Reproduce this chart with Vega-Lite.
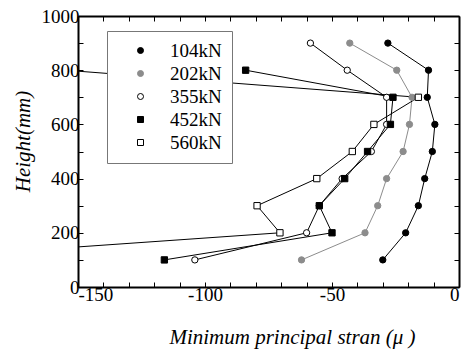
{
  "$schema": "https://vega.github.io/schema/vega-lite/v6.json",
  "width": 381,
  "height": 271,
  "autosize": {"type": "none"},
  "padding": {"left": 78, "top": 16, "right": 3, "bottom": 66},
  "background": "white",
  "config": {
    "view": {"stroke": null},
    "font": "Liberation Serif",
    "axis": {
      "domainColor": "black",
      "domainWidth": 2,
      "tickColor": "black",
      "tickWidth": 1,
      "tickSize": -5,
      "grid": false,
      "labelFont": "Liberation Serif",
      "labelFontSize": 19,
      "labelColor": "black",
      "titleFont": "Liberation Serif",
      "titleFontSize": 21,
      "titleFontStyle": "italic",
      "titleFontWeight": "normal",
      "titleColor": "black"
    }
  },
  "data": {
    "values": [
      {"load": "104kN", "h": 100, "s": -30},
      {"load": "104kN", "h": 200, "s": -21},
      {"load": "104kN", "h": 300, "s": -16},
      {"load": "104kN", "h": 400, "s": -13.5},
      {"load": "104kN", "h": 500, "s": -10.5},
      {"load": "104kN", "h": 600, "s": -9.5},
      {"load": "104kN", "h": 700, "s": -12.5},
      {"load": "104kN", "h": 800, "s": -12},
      {"load": "104kN", "h": 900, "s": -28},
      {"load": "202kN", "h": 100, "s": -62},
      {"load": "202kN", "h": 200, "s": -37},
      {"load": "202kN", "h": 300, "s": -32},
      {"load": "202kN", "h": 400, "s": -28.5},
      {"load": "202kN", "h": 500, "s": -22},
      {"load": "202kN", "h": 600, "s": -19.5},
      {"load": "202kN", "h": 700, "s": -18.5},
      {"load": "202kN", "h": 800, "s": -24.5},
      {"load": "202kN", "h": 900, "s": -43},
      {"load": "355kN", "h": 100, "s": -104},
      {"load": "355kN", "h": 200, "s": -60},
      {"load": "355kN", "h": 300, "s": -55},
      {"load": "355kN", "h": 400, "s": -46},
      {"load": "355kN", "h": 500, "s": -34.5},
      {"load": "355kN", "h": 600, "s": -28.5},
      {"load": "355kN", "h": 700, "s": -28.5},
      {"load": "355kN", "h": 800, "s": -44},
      {"load": "355kN", "h": 900, "s": -58.5},
      {"load": "452kN", "h": 100, "s": -116},
      {"load": "452kN", "h": 200, "s": -50},
      {"load": "452kN", "h": 300, "s": -55},
      {"load": "452kN", "h": 400, "s": -45},
      {"load": "452kN", "h": 500, "s": -36},
      {"load": "452kN", "h": 600, "s": -27},
      {"load": "452kN", "h": 700, "s": -26},
      {"load": "452kN", "h": 800, "s": -84},
      {"load": "560kN", "h": 100, "s": -223},
      {"load": "560kN", "h": 200, "s": -70.5},
      {"load": "560kN", "h": 300, "s": -79.5},
      {"load": "560kN", "h": 400, "s": -56},
      {"load": "560kN", "h": 500, "s": -42},
      {"load": "560kN", "h": 600, "s": -33.5},
      {"load": "560kN", "h": 700, "s": -16},
      {"load": "560kN", "h": 800, "s": -155}
    ]
  },
  "resolve": {"axis": {"x": "independent", "y": "independent"}},
  "layer": [
    {
      "mark": {"type": "line", "clip": true, "strokeWidth": 1},
      "encoding": {
        "x": {
          "field": "s", "type": "quantitative",
          "scale": {"domain": [-150, 0], "nice": false, "zero": false},
          "axis": {
            "values": [-150,-140,-130,-120,-110,-100,-90,-80,-70,-60,-50,-40,-30,-20,-10,0],
            "labelExpr": "datum.value % 50 == 0 ? '' + datum.value : ''",
            "labelPadding": 3,
            "title": "Minimum principal stran (μ )",
            "titleX": 214,
            "titleY": 50,
            "titleBaseline": "middle",
            "titleAlign": "center"
          }
        },
        "y": {
          "field": "h", "type": "quantitative",
          "scale": {"domain": [0, 1000], "nice": false},
          "axis": {
            "values": [0,100,200,300,400,500,600,700,800,900,1000],
            "labelExpr": "datum.value % 200 == 0 ? '' + datum.value : ''",
            "labelPadding": 4,
            "title": "Height(mm)",
            "titleX": -55,
            "titleY": 125,
            "titleBaseline": "middle",
            "titleAlign": "center"
          }
        },
        "stroke": {
          "field": "load", "type": "nominal",
          "scale": {"domain": ["104kN","202kN","355kN","452kN","560kN"], "range": ["black","#8c8c8c","black","black","black"]},
          "legend": {
            "title": null, "orient": "none", "legendX": 29, "legendY": 15, "padding": 10,
            "fillColor": "white", "strokeColor": "#777777",
            "labelFont": "Liberation Serif", "labelFontSize": 19, "labelColor": "black",
            "symbolOffset": 14, "labelOffset": 20, "rowPadding": 3, "symbolSize": 36,
            "encode": {"symbols": {"update": {
              "shape": {"signal": "indexof(['452kN','560kN'], datum.value) >= 0 ? 'M-7.6,0H-1M1,0H7.6M-1,-1H1V1H-1Z' : 'M-7.6,0H-1M1,0H7.6M-1,0A1,1 0 1,0 1,0A1,1 0 1,0 -1,0Z'"},
              "fill": {"scale": "fill", "field": "value"},
              "stroke": {"scale": "stroke", "field": "value"},
              "size": {"value": 36}, "strokeWidth": {"value": 1}, "opacity": {"value": 1}
            }}}
          }
        },
        "order": {"field": "h", "type": "quantitative"}
      }
    },
    {
      "mark": {"type": "point", "clip": true, "filled": true, "opacity": 1, "strokeWidth": 1, "size": 40},
      "encoding": {
        "x": {
          "field": "s", "type": "quantitative",
          "axis": {
            "orient": "top",
            "values": [-150,-140,-130,-120,-110,-100,-90,-80,-70,-60,-50,-40,-30,-20,-10,0],
            "labels": false,
            "title": null
          }
        },
        "y": {
          "field": "h", "type": "quantitative",
          "axis": {
            "orient": "right",
            "values": [0,100,200,300,400,500,600,700,800,900,1000],
            "labels": false,
            "title": null
          }
        },
        "stroke": {
          "field": "load", "type": "nominal",
          "legend": {
            "title": null, "orient": "none", "legendX": 29, "legendY": 15, "padding": 10,
            "fillColor": "white", "strokeColor": "#777777",
            "labelFont": "Liberation Serif", "labelFontSize": 19, "labelColor": "black",
            "symbolOffset": 14, "labelOffset": 20, "rowPadding": 3, "symbolSize": 36,
            "encode": {"symbols": {"update": {
              "shape": {"signal": "indexof(['452kN','560kN'], datum.value) >= 0 ? 'M-7.6,0H-1M1,0H7.6M-1,-1H1V1H-1Z' : 'M-7.6,0H-1M1,0H7.6M-1,0A1,1 0 1,0 1,0A1,1 0 1,0 -1,0Z'"},
              "fill": {"scale": "fill", "field": "value"},
              "stroke": {"scale": "stroke", "field": "value"},
              "size": {"value": 36}, "strokeWidth": {"value": 1}, "opacity": {"value": 1}
            }}}
          }
        },
        "fill": {
          "field": "load", "type": "nominal",
          "scale": {"domain": ["104kN","202kN","355kN","452kN","560kN"], "range": ["black","#8c8c8c","white","black","white"]},
          "legend": {
            "title": null, "orient": "none", "legendX": 29, "legendY": 15, "padding": 10,
            "fillColor": "white", "strokeColor": "#777777",
            "labelFont": "Liberation Serif", "labelFontSize": 19, "labelColor": "black",
            "symbolOffset": 14, "labelOffset": 20, "rowPadding": 3, "symbolSize": 36,
            "encode": {"symbols": {"update": {
              "shape": {"signal": "indexof(['452kN','560kN'], datum.value) >= 0 ? 'M-7.6,0H-1M1,0H7.6M-1,-1H1V1H-1Z' : 'M-7.6,0H-1M1,0H7.6M-1,0A1,1 0 1,0 1,0A1,1 0 1,0 -1,0Z'"},
              "fill": {"scale": "fill", "field": "value"},
              "stroke": {"scale": "stroke", "field": "value"},
              "size": {"value": 36}, "strokeWidth": {"value": 1}, "opacity": {"value": 1}
            }}}
          }
        },
        "shape": {
          "field": "load", "type": "nominal",
          "scale": {"domain": ["104kN","202kN","355kN","452kN","560kN"], "range": ["circle","circle","circle","square","square"]},
          "legend": {
            "title": null, "orient": "none", "legendX": 29, "legendY": 15, "padding": 10,
            "fillColor": "white", "strokeColor": "#777777",
            "labelFont": "Liberation Serif", "labelFontSize": 19, "labelColor": "black",
            "symbolOffset": 14, "labelOffset": 20, "rowPadding": 3, "symbolSize": 36,
            "encode": {"symbols": {"update": {
              "shape": {"signal": "indexof(['452kN','560kN'], datum.value) >= 0 ? 'M-7.6,0H-1M1,0H7.6M-1,-1H1V1H-1Z' : 'M-7.6,0H-1M1,0H7.6M-1,0A1,1 0 1,0 1,0A1,1 0 1,0 -1,0Z'"},
              "fill": {"scale": "fill", "field": "value"},
              "stroke": {"scale": "stroke", "field": "value"},
              "size": {"value": 36}, "strokeWidth": {"value": 1}, "opacity": {"value": 1}
            }}}
          }
        }
      }
    }
  ]
}
